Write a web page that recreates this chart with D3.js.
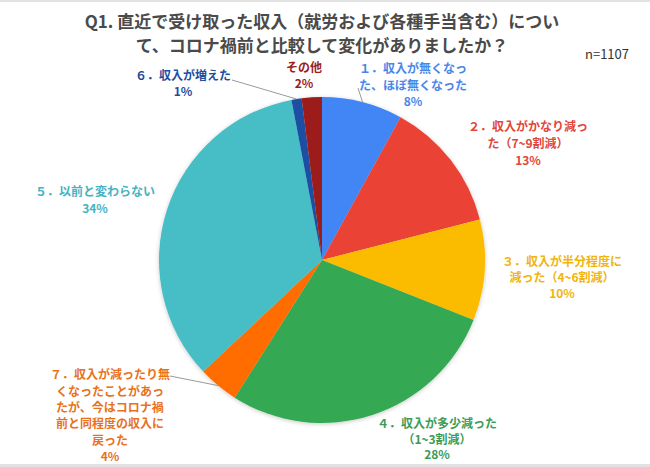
<!DOCTYPE html>
<html>
<head>
<meta charset="utf-8">
<script src="https://cdn.jsdelivr.net/npm/d3@7"></script>
<style>
  body { margin: 0; background: #fff; }
  svg { display: block; }
  text { font-family: "Noto Sans CJK JP", "Noto Sans", sans-serif; }
</style>
</head>
<body>
<div id="chart"></div>
<script>
// slices, clockwise from 12 o'clock
const categories = [
    ["１．収入が無くなっ", "た、ほぼ無くなった"],
    ["２．収入がかなり減っ", "た（7~9割減）"],
    ["３．収入が半分程度に", "減った（4~6割減）"],
    ["４．収入が多少減った", "（1~3割減）"],
    ["７．収入が減ったり無", "くなったことがあっ", "たが、今はコロナ禍", "前と同程度の収入に", "戻った"],
    ["５．以前と変わらない"],
    ["６．収入が増えた"],
    ["その他"]
];
const values = [8, 13, 10, 28, 4, 34, 1, 2];
const sliceColors = ["#4285F4", "#EA4335", "#FBBC04", "#34A853", "#FF6D01", "#46BDC6", "#1B4FA4", "#9C1B1B"];
const labelColors = ["#4A86E8", "#E0463A", "#F0B40C", "#3A9C56", "#E8721C", "#45B3C0", "#1F4E9E", "#9B1D1D"];
const titleLines = ["Q1. 直近で受け取った収入（就労および各種手当含む）につい", "て、コロナ禍前と比較して変化がありましたか？"];
const note = "n=1107";

const width = 650, height = 467;
const cx = 322, cy = 260, radius = 163;

// label anchor (centre of first line) and leader start, per slice
const labelPos = [
    { x: 413, y: 69, lead: [358, 88] },
    { x: 528, y: 127 },
    { x: 562, y: 262 },
    { x: 437, y: 424 },
    { x: 110, y: 375, lead: [170, 376] },
    { x: 95, y: 192 },
    { x: 183, y: 76, lead: [232, 80] },
    { x: 304, y: 68 }
];
const lineH = [16.5, 17, 16, 15.5, 16.4, 17, 16, 16];

const svg = d3.select("#chart").append("svg")
    .attr("width", width)
    .attr("height", height)
    .attr("viewBox", [0, 0, width, height]);

const defs = svg.append("defs");
const f = defs.append("filter").attr("id", "shadow")
    .attr("x", "-10%").attr("y", "-10%").attr("width", "120%").attr("height", "120%");
f.append("feDropShadow")
    .attr("dx", 0).attr("dy", 1)
    .attr("stdDeviation", 2)
    .attr("flood-color", "#000")
    .attr("flood-opacity", 0.22);

// frame bands top / bottom
svg.append("rect").attr("x", 0).attr("y", 0).attr("width", width).attr("height", 2).attr("fill", "#e2e2e2");
svg.append("rect").attr("x", 0).attr("y", 464).attr("width", width).attr("height", 3).attr("fill", "#e2e2e2");

// title
svg.append("g").selectAll("text")
    .data(titleLines)
    .join("text")
    .attr("x", 322)
    .attr("y", (d, i) => 28 + i * 24)
    .attr("text-anchor", "middle")
    .attr("font-size", 17)
    .attr("font-weight", "bold")
    .attr("fill", "#4a4a4a")
    .text(d => d);

svg.append("text")
    .attr("x", 629)
    .attr("y", 59)
    .attr("text-anchor", "end")
    .attr("font-size", 13)
    .attr("fill", "#333")
    .attr("font-family", "Arial, 'Liberation Sans', sans-serif")
    .text(note);

const pie = d3.pie().sort(null).value(d => d);
const arcs = pie(values);
const arc = d3.arc().innerRadius(0).outerRadius(radius);
const edge = d3.arc().innerRadius(radius).outerRadius(radius);

const g = svg.append("g").attr("transform", `translate(${cx},${cy})`);

g.append("g")
    .attr("filter", "url(#shadow)")
    .selectAll("path")
    .data(arcs)
    .join("path")
    .attr("d", arc)
    .attr("fill", (d, i) => sliceColors[i]);

// leader lines
arcs.forEach((d, i) => {
    const p = labelPos[i];
    if (!p.lead) return;
    const [ex, ey] = edge.centroid(d);
    svg.append("line")
        .attr("x1", p.lead[0]).attr("y1", p.lead[1])
        .attr("x2", cx + ex).attr("y2", cy + ey)
        .attr("stroke", "#9a9a9a")
        .attr("stroke-width", 1);
});

// labels
const lab = svg.append("g")
    .attr("font-size", 12)
    .attr("font-weight", "bold")
    .attr("text-anchor", "middle");

arcs.forEach((d, i) => {
    const p = labelPos[i];
    const lines = categories[i].concat([values[i] + "%"]);
    const t = lab.append("text")
        .attr("fill", labelColors[i]);
    lines.forEach((s, k) => {
        t.append("tspan")
            .attr("x", p.x)
            .attr("y", p.y + k * lineH[i])
            .attr("dy", "0.35em")
            .text(s);
    });
});
</script>
</body>
</html>
